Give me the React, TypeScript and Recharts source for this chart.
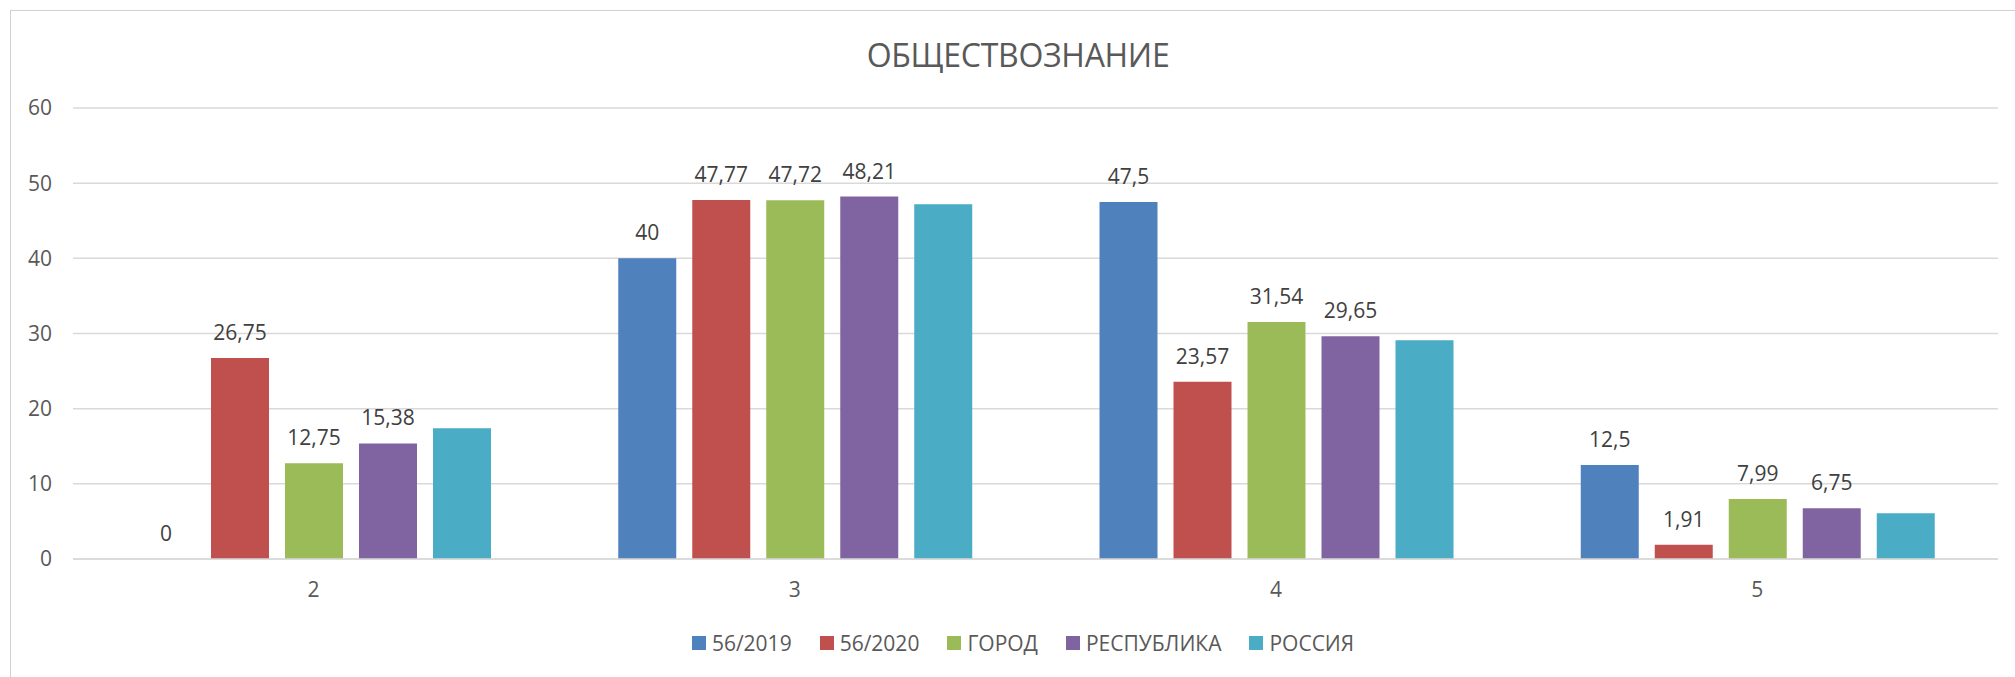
import React from 'react';
import { BarChart, Bar, XAxis, YAxis, CartesianGrid, Legend, LabelList } from 'recharts';

const categories = ['2', '3', '4', '5'];
const s2019 = [0, 40, 47.5, 12.5];
const s2020 = [26.75, 47.77, 23.57, 1.91];
const gorod = [12.75, 47.72, 31.54, 7.99];
const respublika = [15.38, 48.21, 29.65, 6.75];
const rossiya = [17.4, 47.2, 29.1, 6.1];
const yTicks = [0, 10, 20, 30, 40, 50, 60];
const title = 'ОБЩЕСТВОЗНАНИЕ';

const seriesNames = ['56/2019', '56/2020', 'ГОРОД', 'РЕСПУБЛИКА', 'РОССИЯ'];
const seriesColors = ['#4F81BD', '#C0504D', '#9BBB59', '#8064A2', '#4BACC6'];
const seriesLabeled = [true, true, true, true, false];
const seriesValues = [s2019, s2020, gorod, respublika, rossiya];

const data = categories.map((c, i) => {
  const row: Record<string, string | number> = { name: c };
  seriesNames.forEach((s, j) => {
    row[s] = seriesValues[j][i];
  });
  return row;
});

const FONT = '"Open Sans", sans-serif';

const fmt = (v: any) => String(v).replace('.', ',');

const BarLabel = (props: any) => {
  const { x, y, width, height, value } = props;
  if (value === undefined || value === null) return null;
  const top = Math.min(Number(y), Number(y) + Number(height || 0));
  return (
    <text
      x={Number(x) + Number(width) / 2}
      y={top - 18}
      textAnchor="middle"
      fill="#404040"
      fontSize={21}
      fontFamily={FONT}
    >
      {fmt(value)}
    </text>
  );
};

const renderLegend = (props: any) => {
  const payload = props.payload || [];
  return (
    <div
      style={{
        display: 'flex',
        justifyContent: 'center',
        alignItems: 'center',
        height: 30,
        fontFamily: FONT,
        fontSize: 21,
        color: '#595959',
      }}
    >
      {payload.map((p: any, i: number) => (
        <div key={i} style={{ display: 'flex', alignItems: 'center', marginRight: i < payload.length - 1 ? 28 : 0 }}>
          <div style={{ width: 14, height: 14, background: p.color, marginRight: 6 }} />
          <span style={{ lineHeight: '30px' }}>{p.value}</span>
        </div>
      ))}
    </div>
  );
};

export default function App() {
  return (
    <div
      style={{
        position: 'absolute',
        left: 0,
        top: 0,
        width: 2015,
        height: 677,
        background: '#ffffff',
        overflow: 'hidden',
      }}
    >
      <div
        style={{
          position: 'absolute',
          left: 10,
          top: 10,
          width: 2100,
          height: 800,
          borderLeft: '1px solid #d0d0d0',
          borderTop: '1px solid #d0d0d0',
        }}
      />
      <svg style={{ position: 'absolute', left: 0, top: 0 }} width={2015} height={100}>
        <text x={1018} y={66.5} textAnchor="middle" fontFamily={FONT} fontSize={32} fill="#595959" letterSpacing={-0.3}>
          {title}
        </text>
      </svg>
      <div style={{ position: 'absolute', left: 0, top: 0 }}>
        <BarChart
          width={2015}
          height={677}
          data={data}
          margin={{ top: 108, right: 17, left: 0, bottom: 48 }}
          barGap={16}
        >
          <CartesianGrid vertical={false} stroke="#d9d9d9" strokeWidth={1.5} />
          <XAxis
            dataKey="name"
            height={40}
            axisLine={{ stroke: '#d9d9d9', strokeWidth: 1.5 }}
            tickLine={false}
            tickSize={0}
            tickMargin={23.5}
            tick={{ fill: '#595959', fontSize: 21, fontFamily: FONT }}
          />
          <YAxis
            width={73}
            domain={[0, 60]}
            ticks={yTicks}
            interval={0}
            axisLine={false}
            tickLine={false}
            tickSize={0}
            tickMargin={21}
            tick={{ fill: '#595959', fontSize: 21, fontFamily: FONT }}
          />
          <Legend
            content={renderLegend}
            verticalAlign="bottom"
            wrapperStyle={{ top: 628, left: 0, width: 2046, height: 30 }}
          />
          {seriesNames.map((s, j) => (
            <Bar
              key={s}
              dataKey={s}
              fill={seriesColors[j]}
              barSize={58}
              minPointSize={j === 0 ? 0.01 : 0}
              isAnimationActive={false}
            >
              {seriesLabeled[j] ? <LabelList dataKey={s} content={BarLabel} /> : null}
            </Bar>
          ))}
        </BarChart>
      </div>
    </div>
  );
}
